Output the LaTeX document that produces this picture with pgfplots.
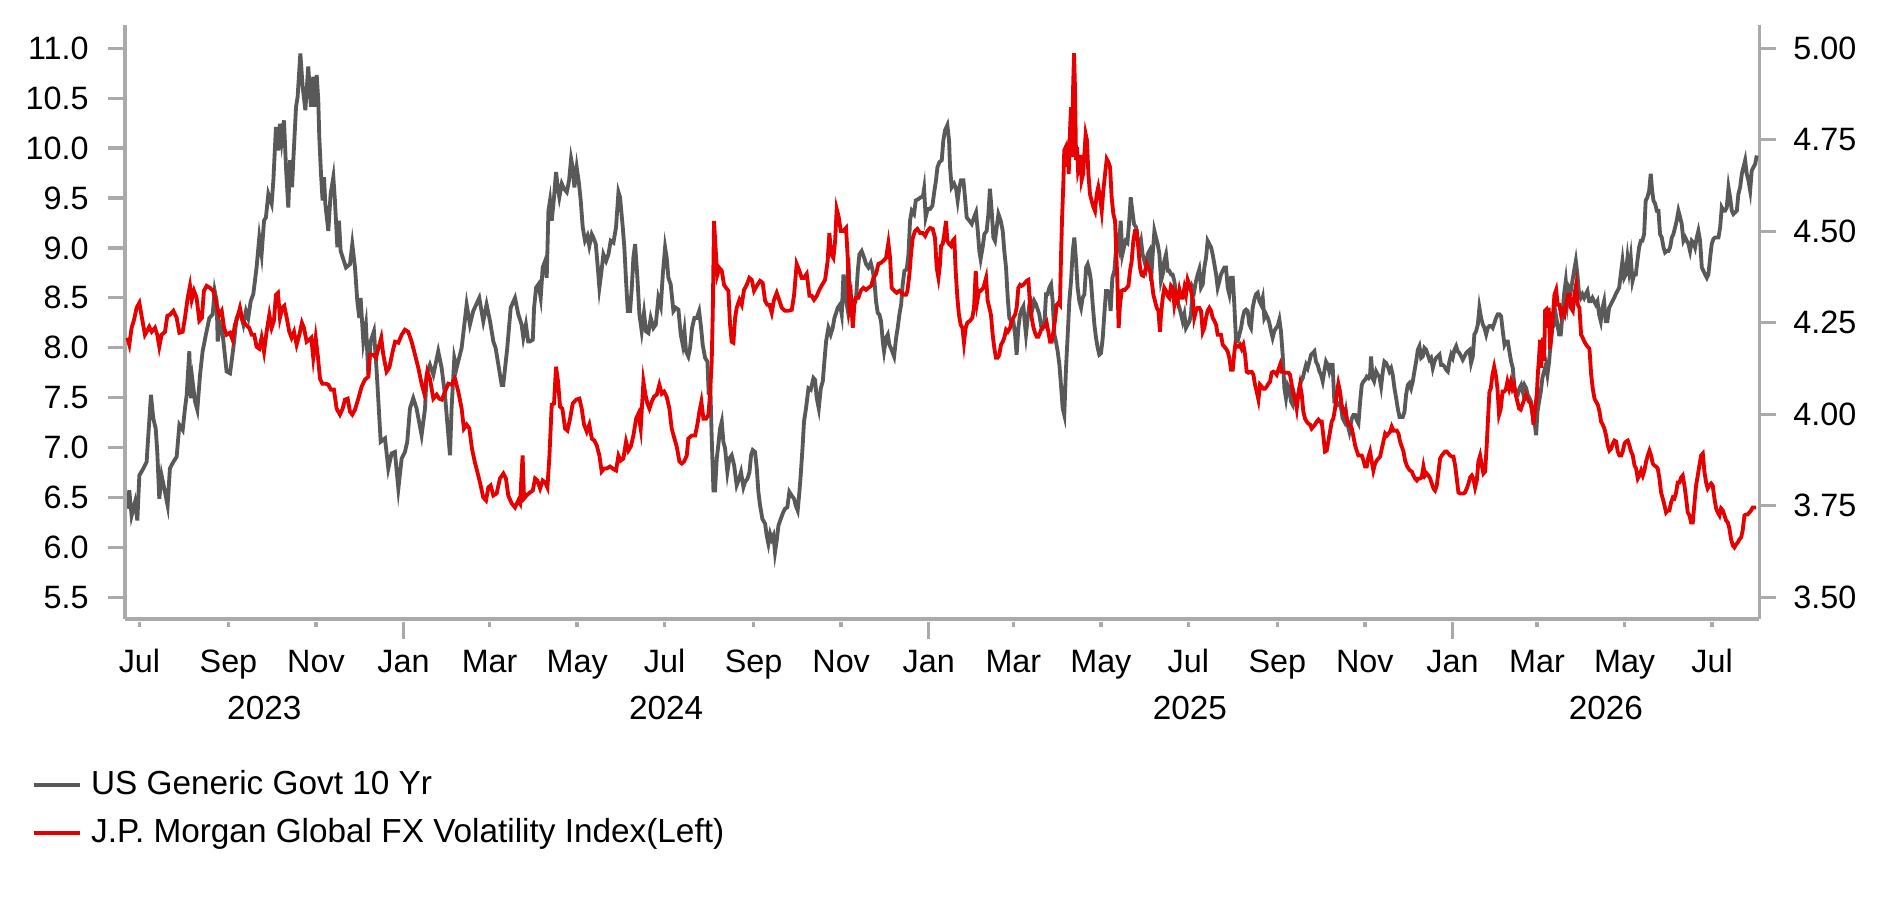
\documentclass[border=0pt]{standalone}
\usepackage{fontspec}
\setmainfont{Liberation Sans}
\usepackage{pgfplots}
\pgfplotsset{compat=1.18}
\definecolor{axgray}{RGB}{170,170,170}
\definecolor{usgray}{RGB}{89,89,89}
\definecolor{fxred}{RGB}{230,0,0}
\begin{document}
\begin{tikzpicture}[font=\fontsize{9.7}{11.6}\selectfont]
\useasboundingbox (-37.5pt,-83.4pt) rectangle (527.4pt,185.7pt);
\pgfplotsset{
  base/.style={
    width=490.3pt, height=178.2pt, scale only axis,
    xmin=-10.1, xmax=1128.9,
    axis line style={draw=axgray, line width=1pt},
    tick style={draw=axgray, line width=1pt},
    tick align=outside,
    major tick length=5pt,
    /pgf/number format/assume math mode=true,
    clip=false,
  }
}
% ---------------- right axis: US Generic Govt 10 Yr ----------------
\begin{axis}[base,
  axis x line=none, axis y line*=right,
  ymin=3.4407, ymax=5.0637,
  xtick=\empty,
  ytick={3.5,3.75,4,4.25,4.5,4.75,5},
  yticklabel style={/pgf/number format/.cd,fixed,fixed zerofill,precision=2,/tikz/.cd,anchor=west,inner sep=0pt,xshift=5pt},
]
\addplot[usgray, line width=1.15pt] table {
x y
-8.5 3.742
-7.1 3.792
-5.5 3.723
-3.1 3.760
-1.5 3.710
-0.1 3.833
2.7 3.852
5.0 3.870
5.4 3.897
8.0 4.053
9.6 3.989
11.3 3.961
12.4 3.897
13.8 3.769
15.4 3.833
17.3 3.797
19.6 3.751
21.2 3.852
23.6 3.870
25.9 3.884
27.8 3.971
30.1 3.957
31.7 4.016
32.9 4.053
34.7 4.172
35.9 4.044
37.0 4.090
38.7 4.035
40.3 4.012
42.2 4.108
44.0 4.172
46.3 4.218
48.7 4.263
51.0 4.273
52.4 4.337
53.8 4.309
54.5 4.199
56.1 4.245
58.0 4.218
60.7 4.117
63.1 4.112
65.4 4.181
67.7 4.263
70.0 4.282
72.4 4.245
74.2 4.282
75.8 4.263
77.5 4.309
79.3 4.328
81.6 4.401
83.5 4.483
85.1 4.437
86.8 4.529
88.1 4.538
89.8 4.602
92.1 4.575
93.3 4.639
95.1 4.785
96.7 4.721
97.9 4.794
99.1 4.748
100.7 4.803
102.1 4.675
103.7 4.565
104.9 4.694
106.3 4.620
107.2 4.694
109.1 4.840
110.2 4.867
112.1 4.986
113.7 4.895
115.6 4.831
117.6 4.950
119.5 4.840
121.1 4.922
122.3 4.840
123.5 4.927
124.6 4.858
125.3 4.758
126.5 4.657
127.6 4.584
128.6 4.648
129.5 4.575
131.6 4.501
133.2 4.602
135.1 4.648
136.2 4.584
137.9 4.456
139.0 4.529
140.2 4.446
143.9 4.401
146.7 4.410
148.3 4.465
150.2 4.401
151.8 4.309
153.2 4.263
154.1 4.318
156.0 4.199
157.8 4.245
159.5 4.108
161.1 4.199
163.4 4.227
165.3 4.117
168.1 3.925
171.1 3.934
173.4 3.852
175.7 3.893
178.0 3.897
180.4 3.797
182.7 3.879
185.0 3.897
186.6 3.925
188.5 4.016
190.8 4.044
193.1 4.016
196.6 3.943
199.0 4.016
200.1 4.108
202.4 4.135
204.8 4.108
208.2 4.172
210.6 4.126
212.9 4.053
216.4 3.888
217.5 4.016
219.4 4.154
221.0 4.126
224.5 4.181
228.0 4.300
230.3 4.245
232.6 4.282
236.8 4.318
239.6 4.254
241.9 4.300
244.3 4.254
246.6 4.199
248.2 4.181
252.4 4.080
253.5 4.080
256.3 4.181
258.7 4.291
261.7 4.318
264.0 4.273
266.3 4.245
267.5 4.209
269.3 4.245
270.9 4.199
272.2 4.199
274.1 4.204
275.0 4.291
276.4 4.346
278.0 4.355
279.6 4.318
281.0 4.401
282.7 4.419
283.8 4.373
285.0 4.556
286.1 4.584
287.3 4.529
288.9 4.593
290.3 4.662
291.5 4.620
292.6 4.593
294.3 4.630
295.9 4.616
297.8 4.607
299.4 4.639
300.8 4.698
301.9 4.675
303.1 4.620
304.7 4.675
306.3 4.630
307.5 4.584
308.9 4.511
310.5 4.474
312.2 4.488
313.5 4.460
315.2 4.492
316.3 4.483
318.0 4.465
319.4 4.401
320.5 4.346
321.7 4.382
323.3 4.437
325.2 4.419
326.8 4.437
328.4 4.474
330.3 4.469
332.1 4.511
333.8 4.607
334.9 4.593
336.8 4.511
337.9 4.456
339.1 4.364
340.3 4.282
341.9 4.282
343.1 4.346
344.2 4.428
345.4 4.465
347.0 4.373
348.4 4.273
350.0 4.227
351.6 4.277
353.0 4.227
354.7 4.222
356.3 4.263
358.2 4.236
359.8 4.245
361.6 4.318
363.3 4.295
364.7 4.382
366.3 4.456
367.4 4.428
368.6 4.373
370.2 4.355
372.1 4.282
373.7 4.291
375.6 4.286
377.2 4.218
378.6 4.190
379.8 4.227
380.9 4.172
382.5 4.158
383.7 4.181
385.1 4.236
386.7 4.263
388.4 4.263
390.0 4.282
391.4 4.236
392.5 4.190
394.2 4.154
395.8 4.144
396.7 4.053
397.6 4.108
398.8 3.934
400.0 3.792
401.1 3.792
402.3 3.879
403.4 3.916
404.6 3.961
405.8 3.980
406.9 3.925
408.1 3.907
409.7 3.842
411.1 3.879
412.7 3.888
414.4 3.861
416.2 3.806
417.9 3.824
419.2 3.842
420.9 3.801
422.0 3.815
423.7 3.824
425.1 3.842
426.2 3.888
427.4 3.902
429.0 3.897
430.2 3.852
431.3 3.788
432.5 3.751
434.1 3.714
436.0 3.701
437.1 3.669
438.3 3.646
439.5 3.673
440.6 3.659
441.8 3.669
442.9 3.623
444.1 3.655
445.3 3.696
446.9 3.714
448.7 3.733
449.9 3.742
451.5 3.746
452.9 3.788
454.5 3.778
456.2 3.769
457.3 3.751
458.7 3.737
459.9 3.788
460.8 3.833
462.2 3.916
463.1 3.980
464.5 4.016
466.2 4.071
467.8 4.067
469.7 4.099
470.8 4.094
472.0 4.044
473.4 4.016
474.8 4.071
476.2 4.090
477.3 4.144
478.5 4.199
480.1 4.236
481.7 4.218
483.1 4.236
484.3 4.263
485.5 4.277
486.6 4.291
488.2 4.300
489.4 4.273
490.6 4.382
491.7 4.327
492.9 4.300
494.0 4.428
495.2 4.318
496.4 4.282
497.5 4.309
499.4 4.318
500.6 4.392
501.7 4.437
503.3 4.446
505.0 4.428
506.4 4.410
508.0 4.401
509.6 4.414
511.0 4.392
512.2 4.364
513.3 4.309
514.5 4.277
515.6 4.273
516.8 4.254
518.0 4.199
518.9 4.172
520.3 4.209
521.5 4.218
522.6 4.190
524.2 4.176
525.9 4.158
527.3 4.209
528.4 4.236
529.6 4.273
530.8 4.300
531.9 4.355
533.1 4.392
534.7 4.396
535.9 4.437
537.0 4.529
538.2 4.556
539.8 4.547
541.0 4.584
542.8 4.588
544.5 4.593
545.9 4.593
546.8 4.616
547.9 4.538
549.3 4.561
551.0 4.561
552.6 4.570
554.0 4.611
555.1 4.639
556.1 4.675
557.5 4.689
559.1 4.694
560.2 4.748
561.4 4.776
563.0 4.790
564.2 4.748
564.9 4.675
566.0 4.620
567.7 4.630
569.1 4.616
570.2 4.584
571.4 4.620
572.5 4.639
574.2 4.639
575.3 4.593
576.5 4.538
578.3 4.529
580.0 4.520
581.6 4.538
583.0 4.552
584.2 4.501
585.3 4.446
586.2 4.424
587.6 4.456
588.8 4.492
590.4 4.501
591.6 4.547
592.7 4.616
593.9 4.556
595.1 4.483
596.2 4.474
597.4 4.511
598.6 4.547
600.2 4.529
601.6 4.501
602.7 4.446
603.9 4.401
605.1 4.318
606.2 4.263
607.6 4.254
609.0 4.254
610.2 4.218
611.3 4.163
612.5 4.236
613.7 4.273
614.8 4.286
616.0 4.295
617.1 4.245
617.8 4.218
619.0 4.263
620.2 4.300
621.3 4.309
622.5 4.291
623.6 4.309
624.8 4.300
626.0 4.286
627.1 4.273
628.3 4.241
629.5 4.236
630.6 4.245
631.8 4.328
632.9 4.328
634.1 4.346
635.3 4.355
636.4 4.309
637.6 4.218
638.7 4.199
639.9 4.172
641.1 4.135
642.2 4.080
643.4 4.016
644.5 3.998
645.7 4.126
646.9 4.218
648.0 4.309
649.2 4.364
650.4 4.446
651.5 4.483
652.7 4.419
653.8 4.346
655.0 4.309
656.2 4.291
657.3 4.318
658.5 4.328
659.7 4.401
660.8 4.410
662.0 4.392
663.1 4.364
664.3 4.300
665.5 4.245
666.6 4.209
667.8 4.181
668.9 4.163
670.1 4.167
671.3 4.209
672.4 4.273
673.6 4.337
674.7 4.337
675.9 4.328
676.8 4.282
678.0 4.373
679.4 4.392
680.3 4.437
681.5 4.474
682.6 4.456
683.8 4.529
685.0 4.437
686.1 4.456
687.3 4.474
688.5 4.469
689.6 4.520
690.8 4.593
691.9 4.556
693.1 4.520
694.5 4.511
695.7 4.474
696.8 4.456
698.0 4.474
699.1 4.437
700.3 4.419
701.5 4.401
702.6 4.437
703.8 4.446
705.0 4.364
706.1 4.437
707.3 4.501
708.4 4.483
709.6 4.465
710.8 4.437
711.9 4.364
713.1 4.382
714.2 4.419
715.4 4.437
716.6 4.392
717.7 4.392
718.9 4.382
720.0 4.382
721.2 4.364
722.4 4.328
723.5 4.309
724.7 4.291
725.9 4.273
727.0 4.254
728.2 4.273
729.3 4.236
730.5 4.245
731.7 4.254
732.8 4.273
734.0 4.346
735.1 4.337
736.3 4.364
737.5 4.382
738.6 4.396
739.8 4.346
741.0 4.355
742.1 4.401
743.3 4.428
744.4 4.474
745.6 4.465
746.8 4.456
747.9 4.437
749.1 4.410
750.3 4.382
751.4 4.346
752.6 4.364
753.7 4.382
754.9 4.392
756.1 4.401
757.2 4.401
758.4 4.346
759.5 4.328
760.7 4.373
761.9 4.373
763.0 4.300
764.2 4.199
765.3 4.199
766.5 4.218
767.7 4.236
768.8 4.263
770.0 4.282
771.2 4.286
772.3 4.282
773.5 4.245
774.6 4.236
775.8 4.291
777.0 4.314
778.1 4.328
779.3 4.332
780.5 4.309
781.6 4.300
782.8 4.318
783.9 4.263
785.1 4.273
786.3 4.263
787.4 4.250
788.6 4.227
789.7 4.209
790.9 4.227
792.1 4.236
793.2 4.241
794.4 4.259
795.5 4.227
796.7 4.163
797.9 4.071
799.0 4.044
800.2 4.080
801.4 4.071
802.5 4.035
803.7 4.026
804.8 4.053
806.0 4.035
807.2 4.044
808.3 4.071
809.5 4.090
810.7 4.099
811.8 4.117
813.0 4.135
814.1 4.126
815.3 4.144
816.5 4.163
817.6 4.167
818.8 4.172
819.9 4.144
821.1 4.135
822.3 4.117
823.4 4.108
824.6 4.090
825.7 4.117
826.9 4.144
828.1 4.135
829.2 4.117
830.4 4.135
831.5 4.135
832.7 4.035
833.9 4.035
835.0 4.026
836.2 4.030
837.4 4.016
838.5 3.989
839.7 3.980
840.8 4.007
842.0 3.971
843.2 3.952
844.9 3.989
846.0 3.998
847.2 3.998
848.3 3.984
849.5 3.975
850.7 4.035
851.8 4.080
853.0 4.090
854.1 4.094
855.3 4.103
856.5 4.099
857.6 4.108
858.3 4.158
859.3 4.099
860.4 4.090
861.8 4.117
863.0 4.108
864.1 4.103
865.3 4.076
866.5 4.117
867.6 4.144
868.8 4.140
869.9 4.131
871.1 4.117
872.3 4.126
873.4 4.108
874.6 4.071
875.8 4.044
876.9 4.016
878.1 3.993
879.2 3.993
880.4 3.993
881.6 4.007
882.7 4.053
883.9 4.080
885.0 4.085
886.2 4.071
887.4 4.090
888.5 4.117
889.7 4.144
890.9 4.176
892.0 4.186
893.2 4.154
894.3 4.158
895.5 4.181
896.7 4.176
897.8 4.163
899.0 4.149
900.1 4.154
901.3 4.126
902.5 4.144
903.6 4.154
904.8 4.158
906.0 4.163
907.1 4.135
908.3 4.135
909.4 4.131
910.6 4.122
911.8 4.117
912.9 4.144
914.1 4.163
915.2 4.154
916.4 4.176
917.6 4.186
918.7 4.172
919.9 4.167
921.1 4.158
922.2 4.149
923.4 4.158
924.5 4.167
925.7 4.172
926.9 4.176
928.0 4.140
929.2 4.158
930.3 4.218
931.5 4.227
932.7 4.245
933.8 4.291
935.0 4.263
936.2 4.245
937.3 4.236
938.5 4.218
939.6 4.236
940.8 4.241
942.0 4.241
943.1 4.236
944.3 4.250
945.4 4.263
946.6 4.273
947.8 4.273
948.9 4.268
950.1 4.227
951.3 4.190
952.4 4.199
953.6 4.199
954.7 4.172
955.9 4.144
957.1 4.126
958.2 4.071
959.4 4.053
960.5 4.053
961.7 4.071
962.9 4.080
964.0 4.062
965.2 4.080
966.4 4.071
967.5 4.053
968.7 4.044
969.8 4.035
971.0 3.998
972.2 3.980
973.3 3.943
974.3 4.007
975.4 4.035
976.6 4.062
977.7 4.099
978.9 4.117
980.1 4.135
981.2 4.108
982.4 4.144
983.5 4.199
984.7 4.236
985.9 4.245
987.0 4.273
988.2 4.245
989.3 4.218
990.5 4.218
991.7 4.273
992.8 4.328
994.0 4.364
995.2 4.309
996.3 4.346
997.5 4.337
998.6 4.364
999.8 4.392
1001.0 4.419
1002.1 4.382
1003.3 4.328
1004.4 4.318
1005.6 4.328
1006.8 4.318
1007.9 4.328
1009.1 4.337
1010.3 4.309
1011.4 4.309
1012.6 4.318
1013.7 4.309
1014.9 4.300
1016.1 4.309
1017.2 4.273
1018.4 4.254
1019.6 4.291
1020.7 4.309
1021.9 4.254
1023.0 4.254
1024.2 4.291
1025.4 4.300
1026.5 4.309
1027.7 4.318
1028.8 4.328
1030.0 4.337
1031.2 4.346
1032.3 4.382
1033.5 4.419
1034.7 4.373
1035.8 4.382
1037.0 4.428
1038.1 4.392
1039.3 4.428
1040.5 4.364
1041.6 4.382
1042.8 4.382
1043.9 4.419
1045.1 4.456
1046.3 4.474
1047.4 4.474
1048.6 4.492
1049.7 4.584
1050.9 4.593
1052.1 4.611
1053.2 4.657
1054.2 4.611
1055.1 4.584
1056.3 4.575
1057.4 4.556
1058.6 4.556
1059.7 4.492
1060.9 4.483
1062.1 4.456
1063.2 4.442
1064.4 4.446
1065.5 4.446
1066.7 4.456
1067.9 4.483
1069.0 4.492
1070.2 4.511
1071.3 4.529
1072.5 4.556
1073.7 4.538
1074.8 4.520
1076.0 4.474
1077.2 4.483
1078.3 4.474
1079.5 4.465
1080.6 4.446
1081.8 4.474
1083.0 4.469
1084.1 4.456
1085.3 4.483
1086.4 4.501
1087.6 4.474
1088.8 4.401
1089.9 4.392
1091.1 4.382
1092.3 4.373
1093.4 4.382
1094.6 4.428
1095.7 4.465
1096.9 4.479
1098.1 4.483
1099.2 4.483
1100.4 4.483
1101.6 4.511
1102.7 4.565
1103.9 4.556
1105.0 4.556
1106.2 4.565
1107.4 4.620
1108.5 4.593
1109.7 4.556
1110.8 4.547
1112.0 4.552
1113.2 4.556
1114.3 4.602
1115.5 4.620
1116.7 4.657
1117.8 4.675
1119.0 4.694
1120.1 4.657
1121.3 4.639
1122.5 4.611
1123.6 4.666
1124.8 4.675
1126.0 4.684
1127.1 4.707
};
\end{axis}
% ---------------- left axis: FX volatility ----------------
\begin{axis}[base,
  axis x line*=bottom, axis y line*=left,
  ymin=5.2826, ymax=11.2335,
  ytick={5.5,6,6.5,7,7.5,8,8.5,9,9.5,10,10.5,11},
  yticklabel style={/pgf/number format/.cd,fixed,fixed zerofill,precision=1,/tikz/.cd,anchor=east,inner sep=0pt,xshift=-5.7pt},
  xtick={0,62,123,184,244,305,366,428,489,550,609,670,731,793,854,915,974,1035,1096},
  xticklabels={Jul,Sep,Nov,Jan,Mar,May,Jul,Sep,Nov,Jan,Mar,May,Jul,Sep,Nov,Jan,Mar,May,Jul},
  xtick style={/pgfplots/major tick length=1.6pt, yshift=-0.8pt},
  xticklabel style={anchor=base, inner sep=0pt, yshift=-11.2pt},
  extra x ticks={184,550,915},
  extra x tick labels={},
  extra x tick style={xtick style={/pgfplots/major tick length=4.4pt, yshift=-0.8pt}},
  legend style={at={(-0.0571,-0.2532)}, anchor=north west, draw=none, fill=none,
    inner sep=0pt, outer sep=0pt, row sep=4.9pt, column sep=2.7pt,
    nodes={inner sep=0pt, text height=7.5pt, text depth=2pt},
    font=\fontsize{10}{12}\selectfont},
  legend cell align=left,
  legend image code/.code={\draw[#1] (0pt,0pt) -- (14pt,0pt);},
]
\addlegendimage{usgray, line width=1.15pt}
\addlegendentry{US Generic Govt 10 Yr}
\addplot[fxred, line width=1.15pt] table {
x y
-8.5 8.10
-7.1 8.03
-5.5 8.20
-3.8 8.28
-2.0 8.40
-0.1 8.45
1.7 8.30
3.8 8.13
5.0 8.16
6.8 8.21
8.5 8.16
10.8 8.20
12.4 8.13
13.8 8.01
15.4 8.13
17.8 8.16
19.4 8.32
21.2 8.33
23.6 8.37
25.9 8.30
27.8 8.15
30.1 8.16
31.7 8.30
33.6 8.50
35.2 8.62
36.4 8.48
38.0 8.57
39.8 8.50
41.7 8.27
43.5 8.30
44.9 8.57
46.8 8.62
49.1 8.60
51.4 8.57
53.8 8.43
55.6 8.33
57.3 8.37
58.9 8.20
60.7 8.13
63.1 8.15
64.9 8.08
66.5 8.23
68.2 8.30
70.0 8.40
71.9 8.27
74.2 8.23
76.5 8.20
78.2 8.13
80.0 8.13
81.6 8.01
83.5 7.99
85.1 8.10
86.8 7.96
88.6 8.16
90.5 8.33
92.1 8.20
93.7 8.27
95.1 8.53
96.5 8.55
97.9 8.30
99.5 8.40
100.9 8.42
102.6 8.30
104.4 8.16
106.0 8.10
107.7 8.16
109.5 8.03
111.4 8.13
113.2 8.25
114.6 8.20
116.5 8.06
118.3 8.08
119.7 8.10
121.1 7.90
122.8 8.10
124.2 7.93
125.8 7.69
127.4 7.64
129.7 7.64
131.6 7.63
133.4 7.58
135.5 7.58
137.4 7.39
139.7 7.33
141.6 7.39
143.2 7.48
145.1 7.49
146.7 7.36
148.3 7.33
150.2 7.38
152.5 7.49
154.8 7.61
157.1 7.68
159.5 7.71
160.6 7.93
163.0 7.93
164.8 7.90
166.4 7.99
168.5 8.10
169.9 7.93
172.2 7.76
174.1 7.80
176.4 7.96
178.1 8.06
180.4 8.05
182.7 8.13
185.0 8.18
187.3 8.16
189.7 8.06
192.0 7.93
194.3 7.80
196.6 7.64
198.5 7.54
200.6 7.76
202.4 7.69
204.8 7.49
207.1 7.53
208.9 7.49
210.8 7.48
212.9 7.56
215.2 7.64
217.5 7.63
219.9 7.69
222.2 7.56
224.5 7.39
226.1 7.19
228.0 7.23
229.9 7.19
231.7 6.99
233.6 6.86
235.4 6.76
237.3 6.65
239.6 6.50
241.5 6.47
243.1 6.60
244.7 6.62
246.6 6.52
248.9 6.54
251.2 6.69
253.6 6.74
255.4 6.69
257.0 6.52
259.4 6.44
261.7 6.40
264.0 6.47
265.2 6.44
267.0 6.92
268.0 6.49
269.8 6.52
272.1 6.55
274.1 6.57
275.7 6.69
277.3 6.67
279.2 6.59
281.0 6.67
282.7 6.65
284.3 6.60
285.7 6.92
287.3 7.43
288.9 7.44
290.3 7.81
291.7 7.66
293.1 7.41
294.7 7.39
296.6 7.19
298.2 7.17
300.1 7.29
301.9 7.44
304.3 7.48
306.6 7.49
308.2 7.39
309.8 7.23
311.7 7.16
313.5 7.23
315.2 7.09
317.0 7.07
318.7 7.02
320.5 6.92
322.1 6.76
323.8 6.79
325.6 6.79
327.9 6.81
329.8 6.79
332.1 6.77
333.8 6.92
335.4 6.87
337.2 6.89
339.1 7.06
340.7 6.97
342.4 7.01
344.2 7.12
346.1 7.29
347.7 7.34
349.3 7.19
351.2 7.66
352.6 7.53
354.0 7.44
355.4 7.39
357.0 7.46
358.6 7.51
360.5 7.53
362.3 7.63
364.0 7.54
365.6 7.56
367.4 7.51
369.3 7.39
370.9 7.19
372.8 7.09
374.4 7.01
376.3 6.86
377.9 6.84
379.5 6.86
381.4 6.92
382.5 7.09
384.9 7.12
387.2 7.12
388.8 7.23
390.2 7.36
391.6 7.46
393.0 7.29
394.9 7.29
396.5 7.33
397.6 7.53
398.8 7.87
399.5 8.33
400.4 9.27
401.6 8.97
402.7 8.73
404.1 8.80
405.8 8.77
407.4 8.63
408.8 8.60
410.4 8.57
411.6 8.23
412.7 8.06
413.9 8.05
415.1 8.30
416.2 8.40
418.1 8.48
419.7 8.43
421.3 8.58
423.2 8.63
425.0 8.70
426.7 8.68
428.3 8.57
430.2 8.62
432.5 8.67
434.3 8.65
436.0 8.47
437.6 8.43
439.0 8.43
440.6 8.35
442.2 8.48
444.1 8.55
446.0 8.47
447.6 8.40
449.9 8.37
452.2 8.37
454.6 8.38
456.2 8.53
458.0 8.84
459.9 8.77
461.5 8.70
463.1 8.70
465.0 8.74
466.9 8.52
468.5 8.52
470.1 8.48
472.0 8.52
473.8 8.58
475.7 8.63
477.8 8.68
479.6 8.87
480.8 9.15
482.0 8.94
483.6 8.90
484.8 9.07
485.9 9.39
487.3 9.31
488.7 9.17
490.6 9.17
492.4 9.20
493.6 8.90
494.7 8.40
495.9 8.50
497.1 8.20
498.2 8.43
499.4 8.50
501.0 8.50
502.6 8.57
504.5 8.60
506.4 8.58
508.0 8.60
509.9 8.62
511.5 8.70
513.3 8.74
515.0 8.84
516.6 8.85
518.4 8.87
520.3 8.90
521.9 9.05
523.1 8.90
524.2 8.60
526.1 8.57
527.7 8.55
529.6 8.57
531.2 8.55
532.8 8.53
534.2 8.53
535.2 8.57
536.6 8.74
537.7 8.94
538.9 9.10
540.5 9.17
542.1 9.19
544.0 9.15
545.9 9.15
547.5 9.12
549.1 9.17
551.0 9.20
552.8 9.19
554.4 9.10
555.6 8.80
556.8 8.70
557.9 8.84
558.6 9.02
559.8 9.04
560.9 9.14
562.1 9.27
563.0 9.07
564.2 9.04
565.6 9.02
566.7 9.07
567.9 9.09
568.8 8.77
570.0 8.50
571.1 8.33
572.3 8.23
573.5 8.20
574.6 8.05
575.8 8.20
576.9 8.25
578.8 8.27
580.4 8.30
581.6 8.40
582.8 8.77
583.9 8.47
585.1 8.57
586.2 8.57
588.1 8.60
590.0 8.70
591.1 8.47
592.3 8.40
593.4 8.33
594.6 8.13
595.8 7.99
596.9 7.90
598.1 7.90
599.2 7.93
600.4 8.03
601.6 8.06
602.7 8.10
603.9 8.18
605.1 8.16
606.7 8.20
607.8 8.27
609.0 8.30
610.2 8.33
611.3 8.40
612.5 8.60
613.7 8.63
614.8 8.62
616.0 8.63
617.1 8.65
618.3 8.67
619.5 8.68
620.6 8.43
621.8 8.30
622.9 8.21
624.1 8.15
625.3 8.11
626.4 8.11
627.6 8.15
628.8 8.20
629.9 8.21
631.1 8.21
632.2 8.25
633.4 8.16
634.6 8.06
635.7 8.06
636.9 8.16
638.0 8.27
639.2 8.43
640.4 8.45
641.5 8.43
642.2 8.90
642.9 9.27
643.9 9.67
644.5 9.98
645.5 10.01
646.2 9.81
646.9 10.04
647.6 9.74
648.5 10.18
649.2 10.41
649.9 9.91
650.6 10.58
651.3 10.95
652.0 10.58
652.7 9.88
653.4 10.01
654.1 9.78
655.0 9.84
655.7 9.93
656.6 9.68
657.6 9.74
658.5 9.94
659.4 10.14
660.3 10.08
661.3 9.74
662.4 9.54
663.6 9.47
664.8 9.41
665.9 9.37
667.1 9.54
668.2 9.61
669.4 9.51
670.6 9.37
671.7 9.57
672.9 9.74
674.1 9.89
675.2 9.86
676.4 9.81
677.5 9.51
678.7 9.34
679.9 9.27
680.6 9.00
681.5 8.67
682.4 8.20
683.3 8.43
684.5 8.57
685.7 8.58
686.8 8.58
688.0 8.60
689.2 8.62
690.3 8.77
691.5 8.87
692.6 9.07
693.8 9.17
695.0 9.17
696.1 9.00
697.3 8.80
698.4 8.73
699.6 8.72
700.8 8.77
701.9 8.84
703.1 8.80
704.3 8.77
705.4 8.67
706.6 8.53
707.7 8.47
708.9 8.40
710.1 8.37
711.2 8.16
711.9 8.33
713.1 8.50
714.2 8.60
715.4 8.57
716.6 8.52
717.7 8.50
718.9 8.62
720.0 8.60
721.2 8.43
722.4 8.53
723.5 8.47
724.7 8.58
725.9 8.50
727.0 8.50
728.2 8.60
729.3 8.53
730.5 8.68
731.7 8.63
732.8 8.57
734.0 8.50
735.1 8.30
736.3 8.37
737.5 8.40
738.6 8.40
739.8 8.37
741.0 8.16
742.1 8.20
743.3 8.30
744.4 8.37
745.6 8.40
746.8 8.37
747.9 8.30
749.1 8.27
750.3 8.23
751.4 8.13
752.6 8.13
753.7 8.13
754.9 8.03
756.1 8.01
757.2 7.99
758.4 7.96
759.5 7.90
760.7 7.78
761.9 7.78
763.0 7.95
763.7 8.03
764.7 8.01
765.8 8.01
767.0 8.03
768.1 7.99
769.3 8.03
770.5 7.93
771.6 7.76
772.8 7.75
773.9 7.76
775.1 7.76
776.3 7.73
777.4 7.63
778.6 7.56
779.8 7.48
780.9 7.63
782.1 7.61
783.2 7.59
784.4 7.59
785.6 7.61
786.7 7.64
787.9 7.66
789.0 7.75
790.2 7.76
791.4 7.75
792.5 7.73
793.7 7.78
794.9 7.83
796.0 7.76
797.2 7.76
798.3 7.75
799.5 7.75
800.7 7.75
801.8 7.73
803.0 7.63
804.1 7.53
805.3 7.49
806.5 7.39
807.6 7.53
808.8 7.63
810.0 7.53
811.1 7.36
812.3 7.29
813.4 7.26
814.6 7.24
815.8 7.23
816.9 7.19
818.1 7.21
819.2 7.23
820.4 7.26
821.6 7.28
822.7 7.26
823.9 7.26
825.0 7.12
826.2 6.96
827.4 6.97
828.5 7.06
829.7 7.16
830.9 7.26
832.0 7.29
833.2 7.39
834.3 7.53
835.5 7.64
836.7 7.56
837.8 7.43
839.0 7.36
840.2 7.38
841.3 7.29
842.5 7.23
843.7 7.23
844.9 7.19
846.0 7.11
847.2 7.02
848.3 6.97
849.5 6.92
850.7 6.92
851.8 6.92
853.0 6.87
854.1 6.81
855.3 6.81
856.5 6.91
857.6 6.96
858.8 6.86
859.9 6.77
861.1 6.84
862.3 6.87
863.4 6.89
864.6 6.91
865.8 6.99
866.9 7.06
868.1 7.14
869.3 7.12
870.4 7.14
871.6 7.16
872.7 7.21
873.9 7.17
875.1 7.17
876.2 7.17
877.4 7.14
878.5 7.06
879.7 7.01
880.9 6.96
882.0 6.87
883.2 6.82
884.4 6.79
885.5 6.77
886.7 6.76
887.8 6.72
889.0 6.69
890.2 6.67
891.3 6.69
892.5 6.69
893.6 6.70
894.8 6.81
896.0 6.72
897.1 6.74
898.3 6.72
899.5 6.69
900.6 6.64
901.8 6.59
902.9 6.57
904.1 6.62
905.3 6.76
906.4 6.89
907.6 6.92
908.7 6.94
909.9 6.96
911.1 6.96
912.2 6.94
913.4 6.92
914.6 6.91
915.7 6.91
916.9 6.82
918.0 6.69
919.2 6.55
920.4 6.54
921.5 6.54
922.7 6.54
923.8 6.55
925.0 6.59
926.2 6.64
927.3 6.70
928.5 6.72
929.6 6.69
930.8 6.60
932.0 6.67
933.1 6.86
934.3 6.92
935.5 6.82
936.6 6.74
937.8 6.76
938.9 7.02
939.6 7.23
940.8 7.56
941.7 7.59
942.9 7.73
944.1 7.81
945.2 7.73
946.4 7.59
947.5 7.33
948.7 7.39
949.9 7.56
951.0 7.56
952.2 7.58
953.3 7.66
954.5 7.59
955.7 7.66
956.8 7.59
958.0 7.63
959.1 7.53
960.3 7.46
961.5 7.39
962.6 7.38
963.8 7.43
965.0 7.48
966.1 7.53
967.3 7.49
968.4 7.46
969.6 7.44
970.8 7.33
971.5 7.23
972.6 7.39
973.8 7.53
974.5 7.73
975.2 7.87
976.1 8.08
976.8 7.80
977.5 7.99
978.2 8.10
978.9 7.87
979.6 8.37
980.3 8.38
981.2 8.20
982.1 8.40
983.1 7.99
984.0 8.13
984.9 8.30
986.1 8.53
987.3 8.58
988.4 8.43
989.6 8.43
990.7 8.33
991.9 8.37
993.1 8.33
994.2 8.43
995.4 8.53
996.6 8.53
997.7 8.40
998.9 8.37
1000.0 8.53
1001.2 8.63
1002.4 8.43
1003.5 8.40
1004.7 8.13
1005.8 8.10
1007.0 8.06
1008.2 8.03
1009.3 8.01
1010.5 7.99
1011.7 7.73
1012.8 7.59
1014.0 7.49
1015.1 7.46
1016.3 7.43
1017.5 7.36
1018.6 7.26
1019.8 7.23
1020.9 7.19
1022.1 7.12
1023.3 7.02
1024.4 6.97
1025.6 6.99
1026.8 7.04
1027.9 7.07
1029.1 7.06
1030.2 6.96
1031.4 6.92
1032.6 6.92
1033.7 6.96
1034.9 7.04
1036.0 7.06
1037.2 7.07
1038.4 7.02
1039.5 6.96
1040.7 6.92
1041.9 6.82
1043.0 6.79
1044.2 6.69
1045.3 6.72
1046.5 6.77
1047.7 6.72
1048.8 6.77
1050.0 6.86
1051.1 6.92
1052.3 6.97
1053.5 6.92
1054.6 6.84
1055.8 6.82
1056.9 6.81
1058.1 6.79
1059.3 6.69
1060.4 6.55
1061.6 6.49
1062.8 6.42
1063.9 6.35
1065.1 6.37
1066.2 6.37
1067.4 6.45
1068.6 6.50
1069.7 6.49
1070.9 6.55
1072.0 6.65
1073.2 6.65
1074.4 6.70
1075.5 6.72
1076.7 6.62
1077.9 6.49
1079.0 6.35
1080.2 6.32
1081.3 6.25
1082.5 6.25
1083.7 6.45
1084.8 6.62
1086.0 6.72
1087.1 6.82
1088.3 6.92
1089.5 6.94
1090.6 6.76
1091.8 6.65
1092.9 6.59
1094.1 6.62
1095.3 6.64
1096.4 6.62
1097.6 6.49
1098.8 6.39
1099.9 6.35
1101.1 6.32
1102.2 6.39
1103.4 6.37
1104.6 6.32
1105.7 6.27
1106.9 6.25
1108.0 6.19
1109.2 6.08
1110.4 6.02
1111.5 6.00
1112.7 6.03
1113.9 6.05
1115.0 6.08
1116.2 6.10
1117.3 6.17
1118.5 6.32
1119.7 6.33
1120.8 6.33
1122.0 6.35
1123.1 6.37
1124.3 6.40
1125.5 6.40
1126.6 6.40
};
\addlegendentry{J.P. Morgan Global FX Volatility Index(Left)}
\node[anchor=base, font=\fontsize{10}{12}\selectfont] at (axis cs:87,5.2826) [yshift=-30.3pt] {2023};
\node[anchor=base, font=\fontsize{10}{12}\selectfont] at (axis cs:367,5.2826) [yshift=-30.3pt] {2024};
\node[anchor=base, font=\fontsize{10}{12}\selectfont] at (axis cs:732,5.2826) [yshift=-30.3pt] {2025};
\node[anchor=base, font=\fontsize{10}{12}\selectfont] at (axis cs:1022,5.2826) [yshift=-30.3pt] {2026};
\end{axis}
\end{tikzpicture}
\end{document}
